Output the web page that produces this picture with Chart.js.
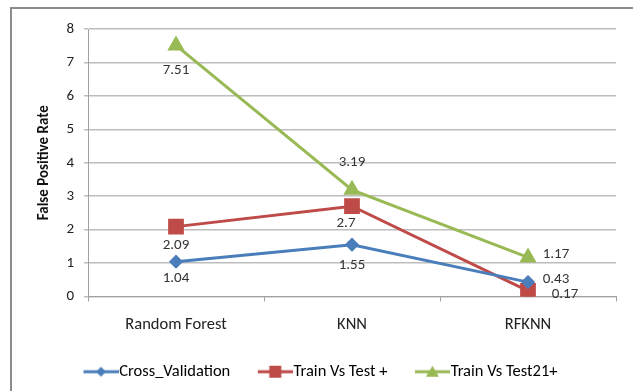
<!DOCTYPE html>
<html>
<head>
<title>False Positive Rate</title>
<script src="https://cdn.jsdelivr.net/npm/chart.js@4.4.0/dist/chart.umd.min.js"></script>
<style>
body { margin: 0; background: #fff; overflow: hidden; }
#wrap { position: relative; width: 633px; height: 391px; }
#frame { position: absolute; left: 10px; top: 7px; width: 640px; height: 400px; border: 2px solid #8c8c8c; }
canvas { position: absolute; left: 0; top: 0; }
</style>
</head>
<body>
<div id="wrap">
    <div id="frame"></div>
    <canvas id="fprChart" width="633" height="391"></canvas>
</div>
<script>
var categories = ["Random Forest", "KNN", "RFKNN"];
var crossValidation = [1.04, 1.55, 0.43];
var trainVsTest = [2.09, 2.7, 0.17];
var trainVsTest21 = [7.51, 3.19, 1.17];
var yMin = 0, yMax = 8, yStep = 1;

var FONT = "Carlito, Lato, 'Open Sans', sans-serif";

// where each value label sits relative to its point [dx, dy]
var labelOffsets = [
    [[0, 17], [0, 21], [28, -3]],
    [[0, 19], [-6, 17], [37, 3]],
    [[0, 25], [0, -28], [28, -3]]
];

// legend swatch: line with the marker in the middle (left part transparent for spacing)
function swatch(color, shape) {
    var c = document.createElement('canvas');
    c.width = 64; c.height = 16;
    var g = c.getContext('2d');
    g.strokeStyle = color; g.fillStyle = color; g.lineWidth = 3;
    g.beginPath(); g.moveTo(29, 8); g.lineTo(64, 8); g.stroke();
    var cx = 46.5, cy = 8;
    g.beginPath();
    if (shape === 'diamond') {
        g.moveTo(cx, cy - 5); g.lineTo(cx + 5, cy); g.lineTo(cx, cy + 5); g.lineTo(cx - 5, cy);
    } else if (shape === 'square') {
        g.rect(cx - 6, cy - 6, 12, 12);
    } else {
        g.moveTo(cx, cy - 6); g.lineTo(cx + 6.5, cy + 5); g.lineTo(cx - 6.5, cy + 5);
    }
    g.closePath(); g.fill();
    return c;
}

var valueLabels = {
    id: 'valueLabels',
    afterDatasetsDraw: function (chart) {
        var ctx = chart.ctx;
        ctx.save();
        ctx.font = '15px ' + FONT;
        ctx.fillStyle = '#333';
        ctx.textAlign = 'center';
        ctx.textBaseline = 'middle';
        chart.data.datasets.forEach(function (ds, i) {
            chart.getDatasetMeta(i).data.forEach(function (pt, j) {
                var off = labelOffsets[i][j];
                ctx.fillText(String(ds.data[j]), pt.x + off[0], pt.y + off[1]);
            });
        });
        ctx.restore();
    }
};

// nudge legend so it starts where the original one does
var legendShift = {
    id: 'legendShift',
    afterLayout: function (chart) {
        var lg = chart.legend;
        lg.left += 24; lg.right += 24;
        lg.top -= 1; lg.bottom -= 1;
    }
};

var blue = '#4a7ebb', red = '#be4b48', green = '#98b954';

new Chart(document.getElementById('fprChart'), {
    type: 'line',
    data: {
        labels: categories,
        datasets: [
            { label: 'Cross_Validation', data: crossValidation, borderColor: blue, backgroundColor: blue,
              borderWidth: 3, pointStyle: 'rectRot', pointRadius: 5, legendImg: swatch(blue, 'diamond') },
            { label: 'Train Vs Test +', data: trainVsTest, borderColor: red, backgroundColor: red,
              borderWidth: 3, pointStyle: 'rect', pointRadius: 9, legendImg: swatch(red, 'square') },
            { label: 'Train Vs Test21+', data: trainVsTest21, borderColor: green, backgroundColor: green,
              borderWidth: 3, pointStyle: 'triangle', pointRadius: 7, legendImg: swatch(green, 'triangle') }
        ]
    },
    options: {
        responsive: false,
        animation: false,
        layout: { padding: { left: 32, right: 17, top: 29, bottom: 0 } },
        plugins: {
            tooltip: { enabled: false },
            legend: {
                position: 'bottom',
                align: 'start',
                labels: {
                    usePointStyle: true,
                    pointStyleWidth: 49,
                    padding: 6,
                    color: '#222',
                    font: { family: FONT, size: 16.5 },
                    generateLabels: function (chart) {
                        return chart.data.datasets.map(function (ds, i) {
                            return { text: ds.label, pointStyle: ds.legendImg, datasetIndex: i,
                                     fillStyle: ds.borderColor, strokeStyle: ds.borderColor, lineWidth: 0 };
                        });
                    }
                }
            }
        },
        scales: {
            x: {
                offset: true,
                grid: { offset: true, drawOnChartArea: false, drawTicks: true, tickLength: 5, color: '#a0a0a0' },
                border: { color: '#a0a0a0' },
                ticks: { color: '#222', padding: 13, font: { family: FONT, size: 16.5 } },
                afterFit: function (s) { s.height = 62; }
            },
            y: {
                min: yMin, max: yMax,
                ticks: { stepSize: yStep, color: '#222', padding: 10, font: { family: FONT, size: 15 } },
                grid: { color: '#bdbdbd', lineWidth: 1.5, tickLength: 4 },
                border: { color: '#a0a0a0' },
                title: { display: true, text: 'False Positive Rate', color: '#111',
                         padding: { top: 3, bottom: 4 },
                         font: { family: FONT, size: 15, weight: 'bold' } },
                afterFit: function (s) { s.width = 56; }
            }
        }
    },
    plugins: [valueLabels, legendShift]
});
</script>
</body>
</html>
